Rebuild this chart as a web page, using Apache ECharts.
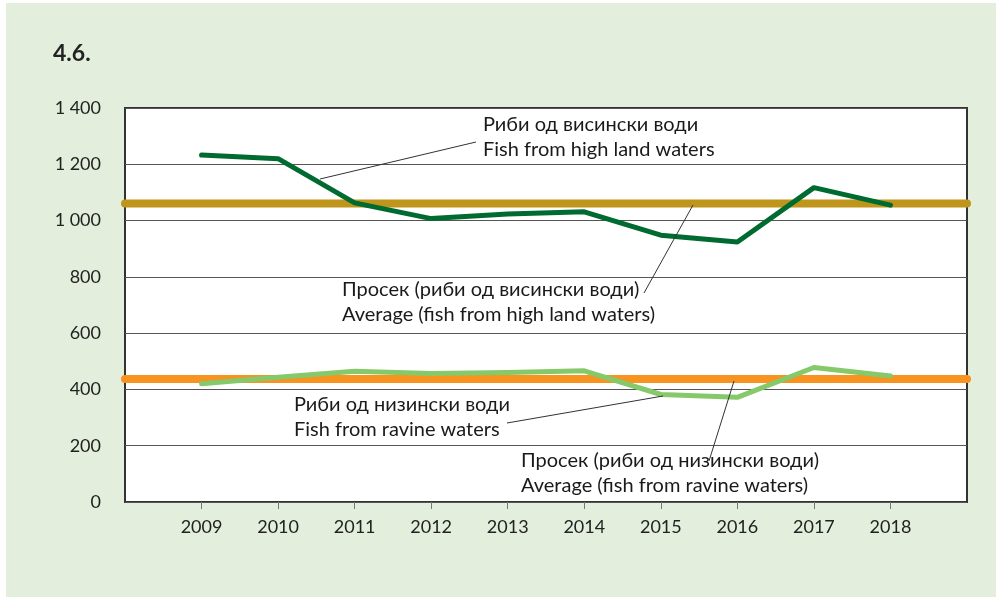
<!DOCTYPE html>
<html>
<head>
<meta charset="utf-8">
<script src="https://cdn.jsdelivr.net/npm/echarts@6/dist/echarts.min.js"></script>
<style>
  html, body { margin: 0; padding: 0; background: #fff; }
  #main { width: 1002px; height: 600px; }
</style>
</head>
<body>
<div id="main"></div>
<script>
// years on the x axis
var years = [2009, 2010, 2011, 2012, 2013, 2014, 2015, 2016, 2017, 2018];
// fish from high land waters
var highWaters = [1233, 1220, 1063, 1007, 1023, 1031, 948, 924, 1117, 1055];
// fish from ravine waters
var ravineWaters = [420, 443, 465, 457, 460, 466, 382, 372, 478, 448];
// averages
var avgHigh = 1061;
var avgRavine = 437;
var yTicks = [0, 200, 400, 600, 800, 1000, 1200, 1400];

var xMin = years[0] - 1;
var xMax = years[years.length - 1] + 1;
var font = 'Lato, "Noto Sans", sans-serif';

function fmt(v) {
  if (v >= 1000) return Math.floor(v / 1000) + ' ' + String(v % 1000).padStart(3, '0');
  return String(v);
}

var chart = echarts.init(document.getElementById('main'));

var option = {
  backgroundColor: '#fff',
  animation: false,
  textStyle: { fontFamily: font },
  grid: {
    left: 125, right: 35, top: 108, bottom: 98,
    show: true,
    backgroundColor: '#fff',
    borderColor: '#333',
    borderWidth: 2
  },
  xAxis: {
    type: 'value',
    min: xMin, max: xMax, interval: 1,
    axisLine: { show: false },
    axisTick: { show: true, length: 7, customValues: years, lineStyle: { color: '#777' } },
    splitLine: { show: false },
    axisLabel: {
      margin: 16,
      fontSize: 18,
      color: '#222',
      fontFamily: font,
      formatter: function (v) { return years.indexOf(v) >= 0 ? String(v) : ''; }
    }
  },
  yAxis: {
    type: 'value',
    min: yTicks[0], max: yTicks[yTicks.length - 1], interval: 200,
    axisLine: { show: false },
    axisTick: { show: false },
    splitLine: { lineStyle: { color: '#555', width: 1 } },
    axisLabel: {
      margin: 24,
      fontSize: 18,
      color: '#222',
      fontFamily: font,
      formatter: fmt
    }
  },
  series: [
    {
      name: 'Просек (риби од висински води)',
      type: 'line',
      clip: false,
      symbol: 'none',
      data: [[xMin, avgHigh], [xMax, avgHigh]],
      lineStyle: { color: '#bf961b', width: 8, cap: 'round' }
    },
    {
      name: 'Просек (риби од низински води)',
      type: 'line',
      clip: false,
      symbol: 'none',
      data: [[xMin, avgRavine], [xMax, avgRavine]],
      lineStyle: { color: '#f7931e', width: 8, cap: 'round' }
    },
    {
      name: 'Риби од висински води',
      type: 'line',
      symbol: 'none',
      data: years.map(function (y, i) { return [y, highWaters[i]]; }),
      lineStyle: { color: '#006b30', width: 5, cap: 'round', join: 'round' }
    },
    {
      name: 'Риби од низински води',
      type: 'line',
      symbol: 'none',
      data: years.map(function (y, i) { return [y, ravineWaters[i]]; }),
      lineStyle: { color: '#86c96a', width: 5, cap: 'round', join: 'round' }
    }
  ],
  graphic: [
    { type: 'rect', z: -10, shape: { x: 6, y: 3, width: 990, height: 594 }, style: { fill: '#e3efdc' } },
    { type: 'text', left: 53, top: 42, style: { text: '4.6.', font: 'bold 23px ' + font, fill: '#222' } },
    // labels
    { type: 'text', x: 483, y: 112, z: 10, style: { text: 'Риби од висински води\nFish from high land waters', font: '20px ' + font, fill: '#1a1a1a', lineHeight: 25 } },
    { type: 'text', x: 342, y: 277, z: 10, style: { text: 'Просек (риби од висински води)\nAverage (fish from high land waters)', font: '20px ' + font, fill: '#1a1a1a', lineHeight: 25 } },
    { type: 'text', x: 294, y: 392, z: 10, style: { text: 'Риби од низински води\nFish from ravine waters', font: '20px ' + font, fill: '#1a1a1a', lineHeight: 25 } },
    { type: 'text', x: 521, y: 448, z: 10, style: { text: 'Просек (риби од низински води)\nAverage (fish from ravine waters)', font: '20px ' + font, fill: '#1a1a1a', lineHeight: 25 } },
    // leader lines
    { type: 'line', z: 10, shape: { x1: 320, y1: 179, x2: 476, y2: 142 }, style: { stroke: '#333', lineWidth: 1 } },
    { type: 'line', z: 10, shape: { x1: 693, y1: 205, x2: 644, y2: 293 }, style: { stroke: '#333', lineWidth: 1 } },
    { type: 'line', z: 10, shape: { x1: 663, y1: 396, x2: 507, y2: 423 }, style: { stroke: '#333', lineWidth: 1 } },
    { type: 'line', z: 10, shape: { x1: 734, y1: 381, x2: 709, y2: 461 }, style: { stroke: '#333', lineWidth: 1 } }
  ]
};

chart.setOption(option);
</script>
</body>
</html>
